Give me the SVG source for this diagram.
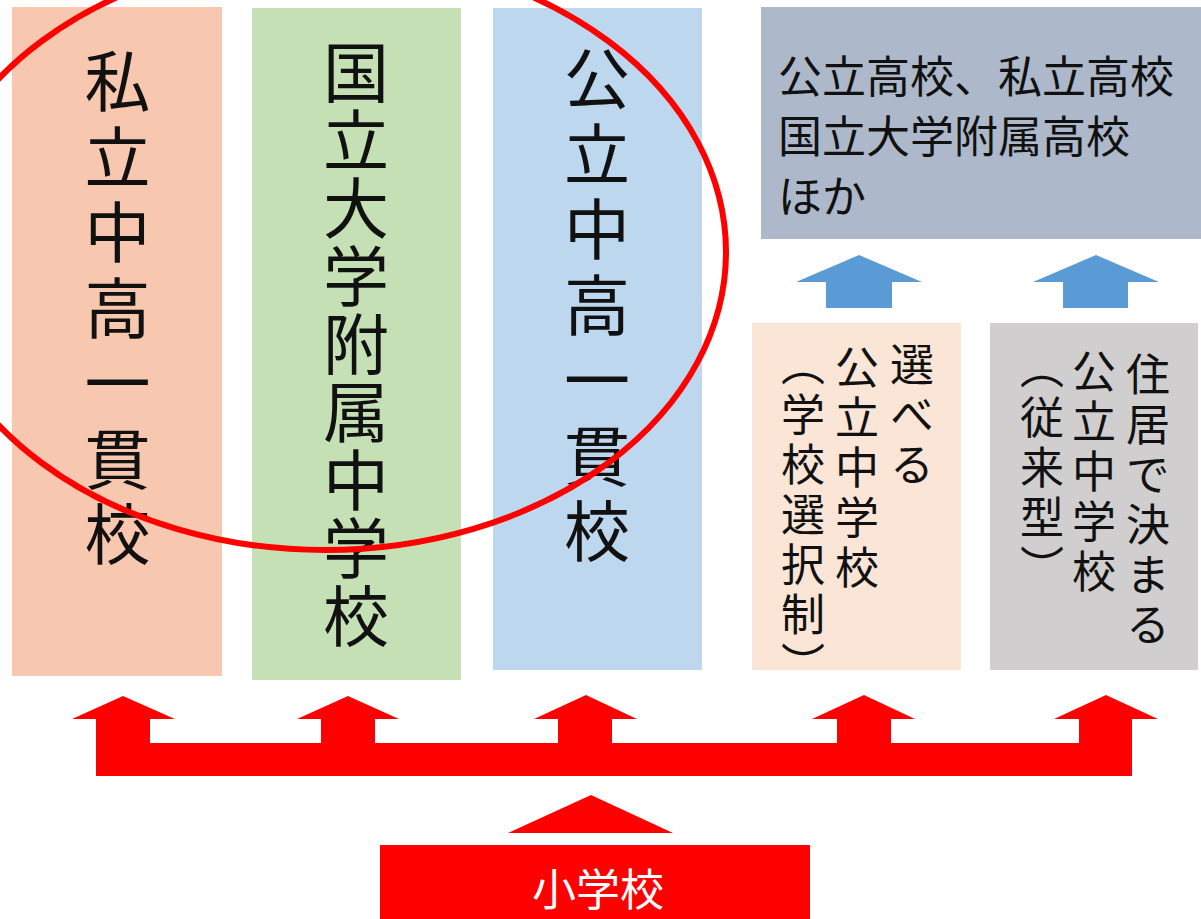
<svg xmlns="http://www.w3.org/2000/svg" width="1201" height="919" viewBox="0 0 1201 919">
<style>
.t{font-family:"Noto Sans CJK JP","Noto Sans CJK SC",sans-serif;fill:#111;}
.v{writing-mode:vertical-rl;}
.big{font-size:66px;}
.sm{font-size:44px;letter-spacing:6px;}
.red{fill:#FF0000;}
.blue{fill:#5B9BD5;}
</style>
<rect width="1201" height="919" fill="#FFFFFF"/>
<g id="node-shiritsu">
<rect x="12" y="7" width="210" height="669" fill="#F8C7AF"/>
<text class="t v big" x="117.5" y="48" style="letter-spacing:9.5px">私立中高一貫校</text>
</g>
<g id="node-kokuritsu">
<rect x="252" y="8" width="209" height="672" fill="#C6E0B5"/>
<text class="t v big" x="356" y="39" style="letter-spacing:2px">国立大学附属中学校</text>
</g>
<g id="node-kouritsu-ikkan">
<rect x="493" y="8" width="209" height="662" fill="#BDD7EE"/>
<text class="t v big" x="597" y="45" style="letter-spacing:9.5px">公立中高一貫校</text>
</g>
<g id="node-koukou">
<rect x="761" y="7" width="440" height="232" fill="#ADB9CA"/>
<text class="t" font-size="44" dominant-baseline="central" x="778" y="74">公立高校、私立高校</text>
<text class="t" font-size="44" dominant-baseline="central" x="778" y="134">国立大学附属高校</text>
<text class="t" font-size="44" dominant-baseline="central" x="778" y="194">ほか</text>
</g>
<g id="node-sentaku">
<rect x="752" y="323" width="209" height="347" fill="#FBE5D6"/>
<text class="t v sm" x="912" y="342">選べる</text>
<text class="t v sm" x="857" y="345">公立中学校</text>
<text class="t v sm" x="803" y="342">（学校選択制）</text>
</g>
<g id="node-juukyo">
<rect x="990" y="323" width="208" height="347" fill="#D0CECE"/>
<text class="t v sm" x="1148" y="352">住居で決まる</text>
<text class="t v sm" x="1094" y="349">公立中学校</text>
<text class="t v sm" x="1042" y="345">（従来型）</text>
</g>
<g id="node-shougakkou">
<rect x="380" y="845" width="430" height="74" class="red"/>
<text x="598" y="887" font-family="Noto Sans CJK JP, sans-serif" font-size="44" fill="#FFFFFF" text-anchor="middle" dominant-baseline="central">小学校</text>
</g>
<g id="connectors">
<path class="red" d="M96,776 L96,719 L72,719 L123,696 L175,719 L150,719 L150,743 L321,743 L321,719 L297,719 L348,696 L399,719 L375,719 L375,743 L558,743 L558,719 L534,719 L586,695 L637,719 L612,719 L612,743 L837,743 L837,719 L812,719 L864,695 L915,719 L891,719 L891,743 L1079,743 L1079,719 L1054,719 L1106,695 L1158,719 L1132,719 L1132,776 Z"/>
<polygon class="red" points="508,833 673,833 591,795"/>
<polygon class="blue" points="826,308 826,282 796,282 859,255 922,282 892,282 892,308"/>
<polygon class="blue" points="1063,308 1063,282 1033,282 1096,255 1159,282 1128,282 1128,308"/>
</g>
<ellipse id="highlight" cx="325" cy="252" rx="401" ry="298" fill="none" stroke="#FF0000" stroke-width="6"/>
</svg>
